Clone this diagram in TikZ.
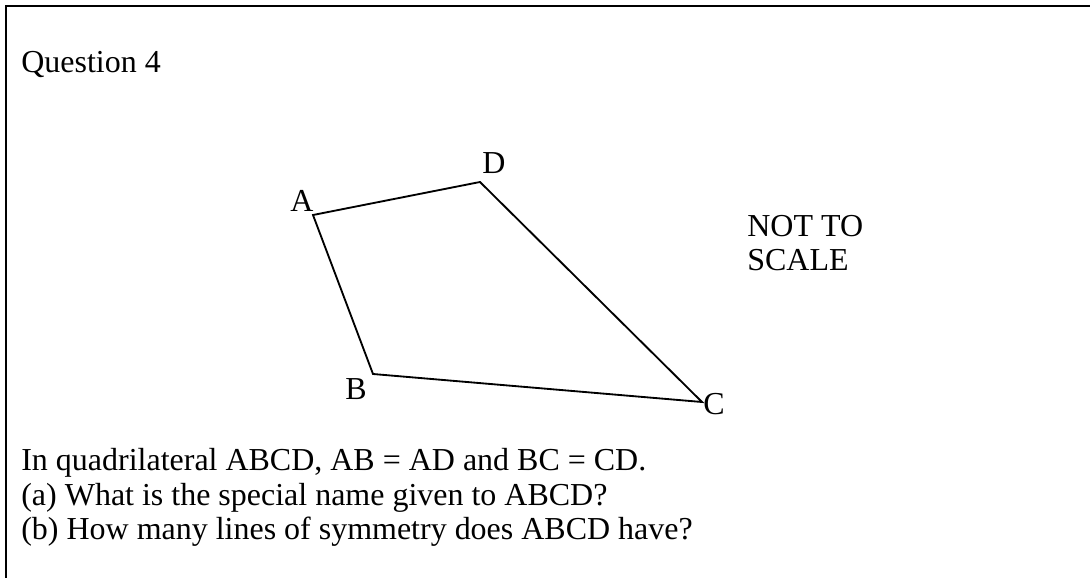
\documentclass[tikz,border=0pt]{standalone}
\usepackage{fontspec}
\setmainfont{Liberation Serif}
\usepackage{tikz}
\usetikzlibrary{positioning}

\begin{document}
\begin{tikzpicture}[
        x=0.02cm, y=-0.02cm,
        txt/.style={
            inner sep=0pt,
            anchor=base west,
            font=\fontsize{18.2pt}{20pt}\selectfont
        },
        side/.style={line width=1.05pt, black}
    ]
    \useasboundingbox (0,0) rectangle (1090,578);

    % Marco de la pregunta (solo arriba e izquierda)
    \draw[line width=1.2pt] (6,578) -- (6,6) -- (1090,6);

    % Título
    \node[txt] (title) at (21,72) {Question 4};

    % Vértices del cuadrilátero
    \coordinate (A) at (313,215);
    \coordinate (B) at (373,374);
    \coordinate (C) at (702,402);
    \coordinate (D) at (480,182);

    \draw[side] (A) -- (B) -- (C) -- (D) -- cycle;

    % Etiquetas de los vértices
    \node[txt] (labA) at (290,211) {A};
    \node[txt] (labB) at (345,399) {B};
    \node[txt] (labC) at (703,414) {C};
    \node[txt] (labD) at (482,173) {D};

    % Aviso de escala
    \node[txt] (note) at (747,236) {NOT TO};
    \node[txt] (note2) at (747,270) {SCALE};

    % Enunciado
    \node[txt] (statement) at (21,470) {In quadrilateral ABCD, AB = AD and BC = CD.};
    \node[txt] (parta) at (21,505) {(a) What is the special name given to ABCD?};
    \node[txt] (partb) at (21,539) {(b) How many lines of symmetry does ABCD have?};

\end{tikzpicture}
\end{document}
